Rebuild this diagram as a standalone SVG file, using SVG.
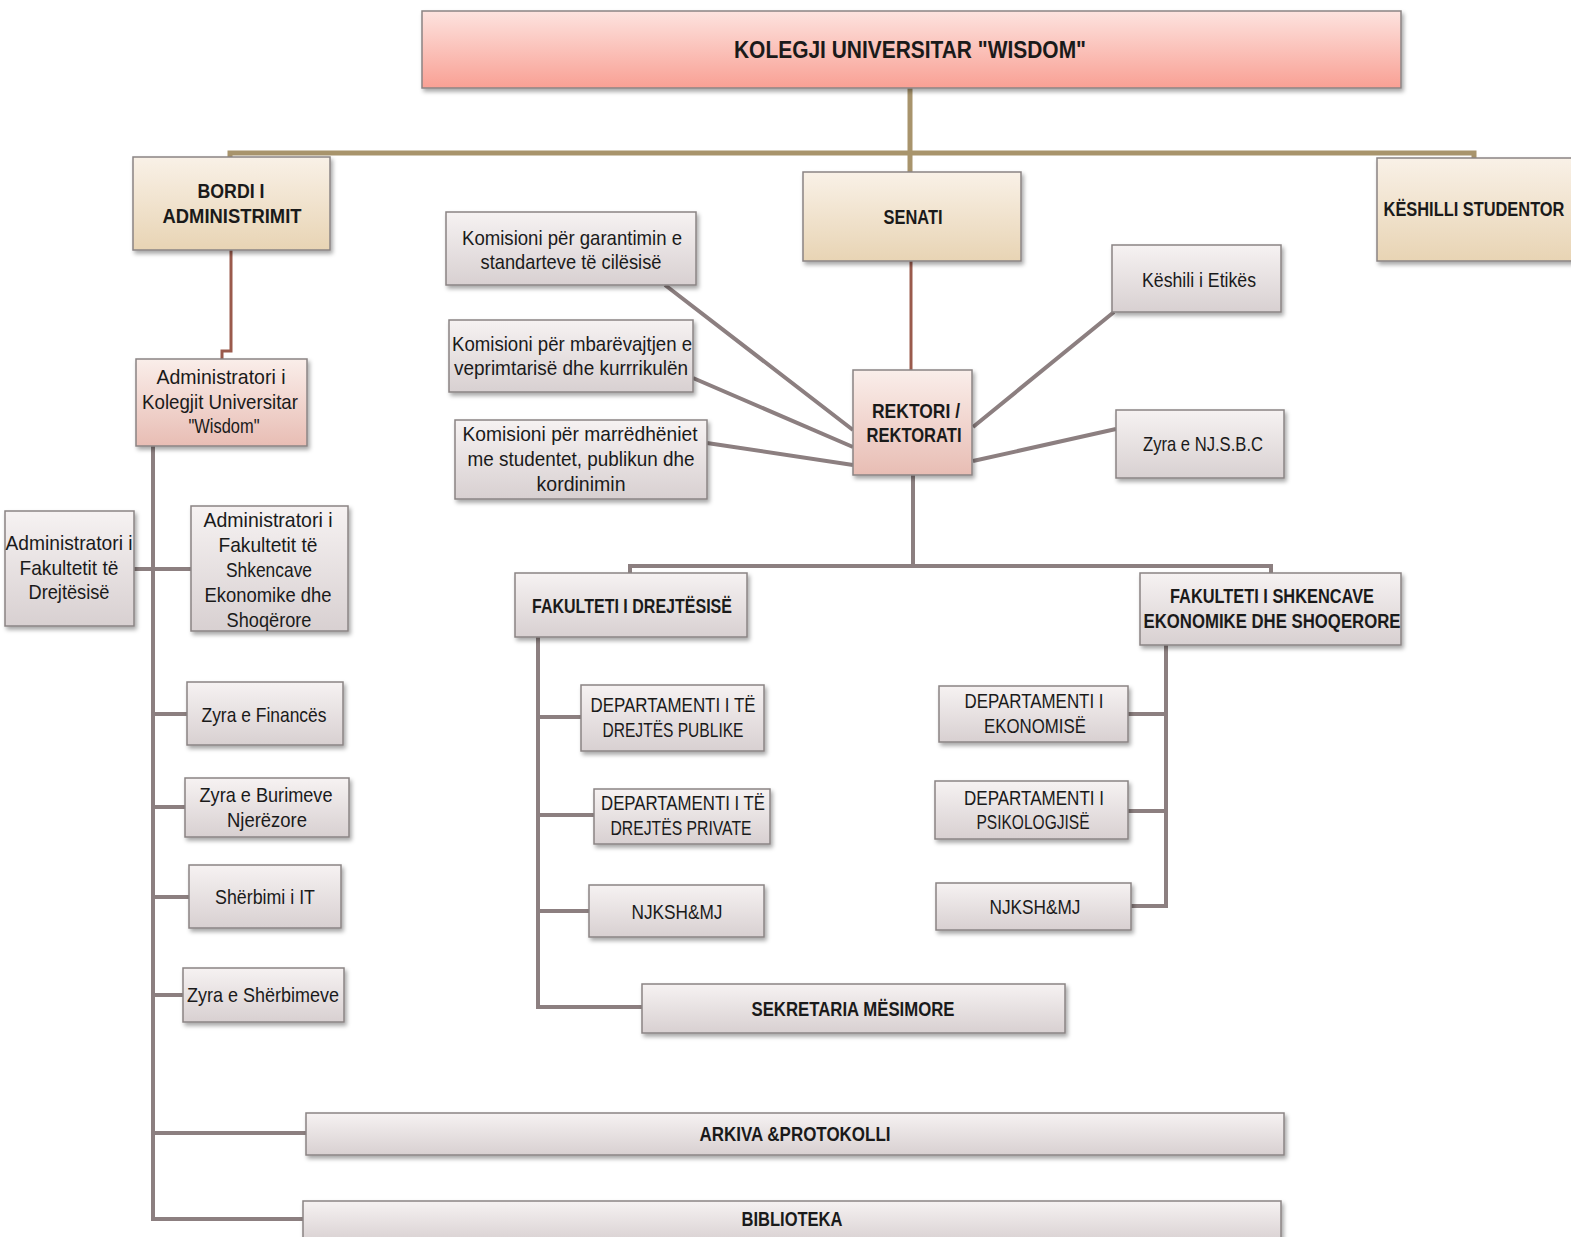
<svg xmlns="http://www.w3.org/2000/svg" width="1571" height="1237" viewBox="0 0 1571 1237">
<style>
text{font-family:"Liberation Sans",Arial,sans-serif;font-size:21px;fill:#1a1a1a;text-anchor:middle;dominant-baseline:central}
.b{font-weight:bold;font-size:20.5px}
.box{stroke:#8a8484;stroke-width:1.5;filter:url(#sh)}
.g{fill:url(#gGray)}
.p{fill:url(#gPink)}
.t{fill:url(#gTan)}
.c{fill:none;stroke:#8c7f80;stroke-width:4}
.ct{fill:none;stroke:#a8946c;stroke-width:5}
.cr{fill:none;stroke:#9a5a4c;stroke-width:3}
</style>
<defs>
<linearGradient id="gGray" x1="0" y1="0" x2="0" y2="1"><stop offset="0" stop-color="#f6f2f2"/><stop offset="1" stop-color="#d8d0d1"/></linearGradient>
<linearGradient id="gPink" x1="0" y1="0" x2="0" y2="1"><stop offset="0" stop-color="#faeeea"/><stop offset="1" stop-color="#e8bdb4"/></linearGradient>
<linearGradient id="gTan" x1="0" y1="0" x2="0" y2="1"><stop offset="0" stop-color="#f9f1e7"/><stop offset="1" stop-color="#e8d4b4"/></linearGradient>
<linearGradient id="gTop" x1="0" y1="0" x2="0" y2="1"><stop offset="0" stop-color="#fde3df"/><stop offset="1" stop-color="#f9a094"/></linearGradient>
<filter id="sh" x="-10%" y="-10%" width="130%" height="140%"><feDropShadow dx="2" dy="3" stdDeviation="2" flood-color="#000" flood-opacity="0.35"/></filter>
</defs>

<g id="connectors">
<path class="ct" d="M910,88 V172 M230,157 V153 H1474 V158"/>
<path class="cr" d="M231,250 V351 H222 V359"/>
<path class="cr" d="M911,261 V370"/>
<path class="c" d="M153,446 V1219 H303 M134,569 H191 M153,714 H187 M153,807 H185 M153,897 H189 M153,995 H183 M153,1133 H306"/>
<path class="c" d="M665,285 L853,430 M693,378 L853,447 M707,443 L853,465 M973,427 L1114,312 M973,461 L1116,429"/>
<path class="c" d="M913,475 V566 M630,573 V566 H1271 V573"/>
<path class="c" d="M538,637 V1007 H642 M538,717 H581 M538,815 H594 M538,911 H589"/>
<path class="c" d="M1166,645 V906 H1131 M1166,714 H1128 M1166,811 H1128"/>
</g>

<g id="kolegji"><rect class="box" x="422" y="11" width="979" height="77" fill="url(#gTop)"/><text class="b" x="910" y="49" style="font-size:24px" textLength="352" lengthAdjust="spacingAndGlyphs">KOLEGJI UNIVERSITAR "WISDOM"</text></g>
<g id="bordi"><rect class="box t" x="133" y="157" width="197" height="93"/><text class="b" x="231" y="190" textLength="67" lengthAdjust="spacingAndGlyphs">BORDI I</text><text class="b" x="232" y="215" textLength="139" lengthAdjust="spacingAndGlyphs">ADMINISTRIMIT</text></g>
<g id="senati"><rect class="box t" x="803" y="172" width="218" height="89"/><text class="b" x="913" y="216" textLength="59" lengthAdjust="spacingAndGlyphs">SENATI</text></g>
<g id="keshilli-studentor"><rect class="box t" x="1377" y="158" width="200" height="103"/><text class="b" transform="translate(1474 209) scale(0.8 1)" x="0" y="0">KËSHILLI STUDENTOR</text></g>

<g id="admin-kolegjit"><rect class="box p" x="136" y="359" width="171" height="87"/><text x="221" y="376" textLength="129" lengthAdjust="spacingAndGlyphs">Administratori i</text><text x="220" y="401" textLength="156" lengthAdjust="spacingAndGlyphs">Kolegjit Universitar</text><text x="224" y="425" textLength="71" lengthAdjust="spacingAndGlyphs">"Wisdom"</text></g>
<g id="admin-drejtesise"><rect class="box g" x="5" y="511" width="129" height="115"/><text x="69" y="542" textLength="127" lengthAdjust="spacingAndGlyphs">Administratori i</text><text x="69" y="567" textLength="99" lengthAdjust="spacingAndGlyphs">Fakultetit të</text><text x="69" y="591" textLength="81" lengthAdjust="spacingAndGlyphs">Drejtësisë</text></g>
<g id="admin-shkencave"><rect class="box g" x="191" y="506" width="157" height="125"/><text x="268" y="519" textLength="129" lengthAdjust="spacingAndGlyphs">Administratori i</text><text x="268" y="544" textLength="99" lengthAdjust="spacingAndGlyphs">Fakultetit të</text><text x="269" y="569" textLength="86" lengthAdjust="spacingAndGlyphs">Shkencave</text><text x="268" y="594" textLength="127" lengthAdjust="spacingAndGlyphs">Ekonomike dhe</text><text x="269" y="619" textLength="85" lengthAdjust="spacingAndGlyphs">Shoqërore</text></g>
<g id="zyra-finances"><rect class="box g" x="187" y="682" width="156" height="63"/><text x="264" y="714" textLength="125" lengthAdjust="spacingAndGlyphs">Zyra e Financës</text></g>
<g id="zyra-burimeve"><rect class="box g" x="185" y="778" width="164" height="59"/><text x="266" y="794" textLength="133" lengthAdjust="spacingAndGlyphs">Zyra e Burimeve</text><text x="267" y="819" textLength="80" lengthAdjust="spacingAndGlyphs">Njerëzore</text></g>
<g id="sherbimi-it"><rect class="box g" x="189" y="865" width="152" height="63"/><text x="265" y="896" textLength="100" lengthAdjust="spacingAndGlyphs">Shërbimi i IT</text></g>
<g id="zyra-sherbimeve"><rect class="box g" x="183" y="968" width="161" height="54"/><text x="263" y="994" textLength="152" lengthAdjust="spacingAndGlyphs">Zyra e Shërbimeve</text></g>
<g id="arkiva"><rect class="box g" x="306" y="1113" width="978" height="42"/><text class="b" x="795" y="1133" textLength="191" lengthAdjust="spacingAndGlyphs">ARKIVA &amp;PROTOKOLLI</text></g>
<g id="biblioteka"><rect class="box g" x="303" y="1201" width="978" height="42"/><text class="b" x="792" y="1218" textLength="101" lengthAdjust="spacingAndGlyphs">BIBLIOTEKA</text></g>

<g id="komisioni-cilesise"><rect class="box g" x="446" y="212" width="250" height="73"/><text x="572" y="237" textLength="220" lengthAdjust="spacingAndGlyphs">Komisioni për garantimin e</text><text x="571" y="261" textLength="181" lengthAdjust="spacingAndGlyphs">standarteve të cilësisë</text></g>
<g id="komisioni-kurrikules"><rect class="box g" x="449" y="320" width="244" height="72"/><text x="572" y="343" textLength="240" lengthAdjust="spacingAndGlyphs">Komisioni për mbarëvajtjen e</text><text x="571" y="367" textLength="234" lengthAdjust="spacingAndGlyphs">veprimtarisë dhe kurrrikulën</text></g>
<g id="komisioni-marredhenieve"><rect class="box g" x="455" y="420" width="252" height="79"/><text x="580" y="433" textLength="235" lengthAdjust="spacingAndGlyphs">Komisioni  për marrëdhëniet</text><text x="581" y="458" textLength="227" lengthAdjust="spacingAndGlyphs">me studentet, publikun dhe</text><text x="581" y="483" textLength="89" lengthAdjust="spacingAndGlyphs">kordinimin</text></g>

<g id="rektori"><rect class="box p" x="853" y="370" width="119" height="105"/><text class="b" x="916" y="410" textLength="88" lengthAdjust="spacingAndGlyphs">REKTORI /</text><text class="b" x="914" y="434" textLength="95" lengthAdjust="spacingAndGlyphs">REKTORATI</text></g>
<g id="keshili-etikes"><rect class="box g" x="1112" y="245" width="169" height="67"/><text x="1199" y="279" textLength="114" lengthAdjust="spacingAndGlyphs">Këshili i Etikës</text></g>
<g id="zyra-njsbc"><rect class="box g" x="1116" y="410" width="168" height="68"/><text x="1203" y="443" textLength="120" lengthAdjust="spacingAndGlyphs">Zyra e NJ.S.B.C</text></g>

<g id="fakulteti-drejtesise"><rect class="box g" x="515" y="573" width="232" height="64"/><text class="b" x="632" y="605" textLength="200" lengthAdjust="spacingAndGlyphs">FAKULTETI I DREJTËSISË</text></g>
<g id="fakulteti-shkencave"><rect class="box g" x="1140" y="573" width="261" height="72"/><text class="b" x="1272" y="595" textLength="204" lengthAdjust="spacingAndGlyphs">FAKULTETI I SHKENCAVE</text><text class="b" x="1272" y="620" textLength="257" lengthAdjust="spacingAndGlyphs">EKONOMIKE DHE SHOQERORE</text></g>

<g id="dep-publike"><rect class="box g" x="581" y="685" width="183" height="66"/><text x="673" y="704" textLength="165" lengthAdjust="spacingAndGlyphs">DEPARTAMENTI I TË</text><text x="673" y="729" textLength="141" lengthAdjust="spacingAndGlyphs">DREJTËS PUBLIKE</text></g>
<g id="dep-private"><rect class="box g" x="594" y="789" width="176" height="55"/><text x="683" y="802" textLength="164" lengthAdjust="spacingAndGlyphs">DEPARTAMENTI I TË</text><text x="681" y="827" textLength="141" lengthAdjust="spacingAndGlyphs">DREJTËS PRIVATE</text></g>
<g id="njksh-1"><rect class="box g" x="589" y="885" width="175" height="52"/><text x="677" y="911" textLength="91" lengthAdjust="spacingAndGlyphs">NJKSH&amp;MJ</text></g>
<g id="sekretaria"><rect class="box g" x="642" y="984" width="423" height="49"/><text class="b" x="853" y="1008" textLength="203" lengthAdjust="spacingAndGlyphs">SEKRETARIA MËSIMORE</text></g>

<g id="dep-ekonomise"><rect class="box g" x="939" y="686" width="189" height="56"/><text x="1034" y="700" textLength="139" lengthAdjust="spacingAndGlyphs">DEPARTAMENTI I</text><text x="1035" y="725" textLength="102" lengthAdjust="spacingAndGlyphs">EKONOMISË</text></g>
<g id="dep-psikologjise"><rect class="box g" x="935" y="781" width="193" height="58"/><text x="1034" y="797" textLength="140" lengthAdjust="spacingAndGlyphs">DEPARTAMENTI I</text><text x="1033" y="821" textLength="113" lengthAdjust="spacingAndGlyphs">PSIKOLOGJISË</text></g>
<g id="njksh-2"><rect class="box g" x="936" y="883" width="195" height="47"/><text x="1035" y="906" textLength="91" lengthAdjust="spacingAndGlyphs">NJKSH&amp;MJ</text></g>
</svg>
